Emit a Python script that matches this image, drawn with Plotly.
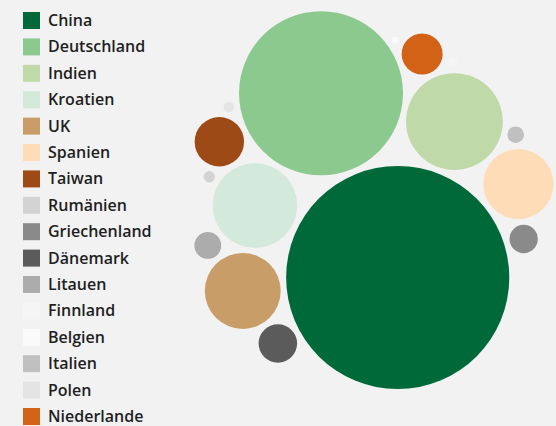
import math
import plotly.graph_objects as go

# ---- data -------------------------------------------------------------
countries = ["China", "Deutschland", "Indien", "Kroatien", "UK", "Spanien",
             "Taiwan", "Rumänien", "Griechenland", "Dänemark", "Litauen",
             "Finnland", "Belgien", "Italien", "Polen", "Niederlande"]
values = [124.5, 67.2, 23.4, 17.9, 14.4, 12.3,
          6.1, 0.32, 2.0, 3.7, 1.8,
          0.25, 0.12, 0.69, 0.28, 4.2]
colors = ["#00693a", "#8cc98e", "#bfdaa8", "#d3e9db", "#c89d68", "#fddcb7",
          "#9e4a16", "#d3d3d3", "#8a8a8a", "#5b5b5b", "#acacac",
          "#f5f5f5", "#fafafa", "#c0c0c0", "#e4e4e4", "#d26216"]

# ---- layout parameters (packing topology) -----------------------------
W, H = 556, 426
BG = "#f2f2f2"
PX_PER_SQRT = 10.0          # radius = PX_PER_SQRT * sqrt(value)
PAD = 6.0                   # gap between bubbles
ANCHOR = "China"
ANCHOR_POS = (397.7, 277.5)
FIRST = ("Deutschland", -112.6)   # tangent to anchor at this angle (deg)
# (bubble, parent A, parent B, side)
CHAIN = [
    ("Indien", "China", "Deutschland", 1),
    ("Spanien", "China", "Indien", 1),
    ("Griechenland", "China", "Spanien", 1),
    ("Kroatien", "China", "Deutschland", -1),
    ("UK", "China", "Kroatien", -1),
    ("Dänemark", "China", "UK", -1),
    ("Niederlande", "Deutschland", "Indien", -1),
    ("Taiwan", "Deutschland", "Kroatien", 1),
    ("Litauen", "Kroatien", "UK", 1),
    ("Rumänien", "Kroatien", "Taiwan", -1),
    ("Polen", "Taiwan", "Deutschland", -1),
    ("Italien", "Indien", "Spanien", -1),
    ("Belgien", "Deutschland", "Niederlande", -1),
    ("Finnland", "Niederlande", "Indien", -1),
]

rad = {c: PX_PER_SQRT * math.sqrt(v) for c, v in zip(countries, values)}
pos = {ANCHOR: ANCHOR_POS}
name, ang = FIRST
d0 = rad[ANCHOR] + rad[name] + PAD
pos[name] = (ANCHOR_POS[0] + d0 * math.cos(math.radians(ang)),
             ANCHOR_POS[1] + d0 * math.sin(math.radians(ang)))
for name, a, b, side in CHAIN:
    ax, ay = pos[a]
    bx, by = pos[b]
    da = rad[a] + rad[name] + PAD
    db = rad[b] + rad[name] + PAD
    dx, dy = bx - ax, by - ay
    d = math.hypot(dx, dy)
    ux, uy = dx / d, dy / d
    along = (da * da - db * db + d * d) / (2 * d)
    h = math.sqrt(max(da * da - along * along, 0.0))
    px, py = -uy, ux
    pos[name] = (ax + along * ux + side * h * px,
                 ay + along * uy + side * h * py)

fig = go.Figure()
# plotly area mode: radius = sqrt(v / (2 * sizeref))
sizeref = 1.0 / (2 * PX_PER_SQRT ** 2)
for c, v, col in zip(countries, values, colors):
    fig.add_trace(go.Scatter(
        x=[pos[c][0]], y=[pos[c][1]], mode="markers", name=c,
        marker=dict(size=[v], sizemode="area", sizeref=sizeref, sizemin=0,
                    color=col, opacity=1, line=dict(width=0)),
        hovertemplate=c + ": %{marker.size}<extra></extra>",
        showlegend=False))

# ---- manual legend ----------------------------------------------------
LEG_TOP = 20.5
LEG_STEP = 26.4
SQ = 17
shapes, annots = [], []
for i, (c, col) in enumerate(zip(countries, colors)):
    yc = LEG_TOP + i * LEG_STEP
    shapes.append(dict(type="rect", xref="x", yref="y", x0=23, x1=23 + SQ,
                       y0=yc - SQ / 2, y1=yc + SQ / 2, fillcolor=col,
                       line=dict(width=0), layer="above"))
    annots.append(dict(x=46.5, y=yc - 0.5, xref="x", yref="y", text=c,
                       showarrow=False, xanchor="left", yanchor="middle",
                       borderpad=0,
                       font=dict(family="Open Sans", size=16, weight=600,
                                 color="#1f1f1f")))

fig.update_layout(
    width=W, height=H, autosize=False,
    margin=dict(l=0, r=0, t=0, b=0),
    paper_bgcolor=BG, plot_bgcolor=BG,
    xaxis=dict(range=[0, W], visible=False, fixedrange=True),
    yaxis=dict(range=[H, 0], visible=False, fixedrange=True),
    shapes=shapes, annotations=annots,
    showlegend=False,
)
fig.write_html("out.html", config={"displayModeBar": False},
               post_script="document.body.style.margin='0';"
                           "document.body.style.overflow='hidden';"
                           "document.body.style.background='" + BG + "';")
